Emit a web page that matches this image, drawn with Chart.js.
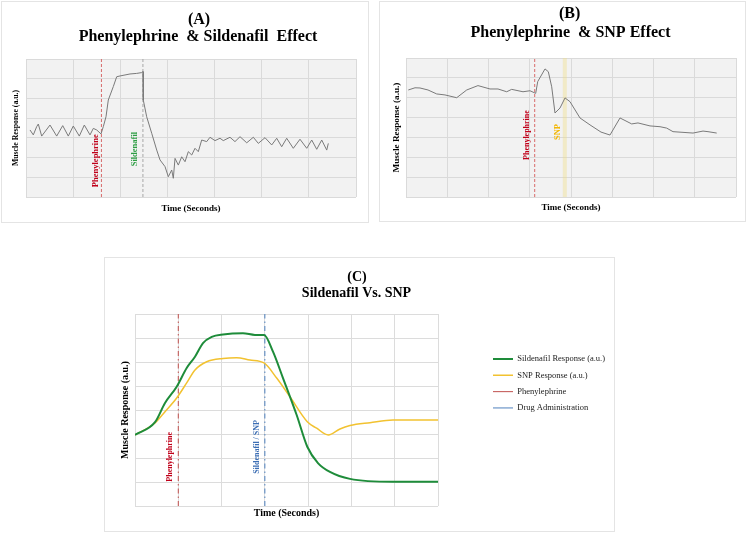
<!DOCTYPE html>
<html><head><meta charset="utf-8">
<script src="https://cdn.jsdelivr.net/npm/chart.js@4/dist/chart.umd.min.js"></script>
<style>
html,body{margin:0;padding:0;background:#fff;width:748px;height:535px;overflow:hidden;}
.panel{position:absolute;border:1px solid #e4e4e4;background:#fff;}
canvas{display:block;}
</style></head><body>
<div class="panel" style="left:1px;top:1px;"><canvas id="cA" width="366" height="220"></canvas></div>
<div class="panel" style="left:379px;top:1px;"><canvas id="cB" width="365" height="219"></canvas></div>
<div class="panel" style="left:104px;top:257px;"><canvas id="cC" width="509" height="273"></canvas></div>
<script>
// ---------- DATA ----------
// Panel A: Phenylephrine & Sildenafil effect (time in s, response in a.u.)
const timeA = [0.85,1.55,2.27,2.61,3.33,5.09,6.51,7.79,8.97,10.03,11.31,12.37,13.58,14.28,15.0,15.91,16.4,16.97,17.46,18.52,19.24,19.94,22.06,23.48,24.54,24.82,24.88,25.6,26.67,27.73,28.43,29.49,30.19,30.91,31.25,31.61,32.31,33.03,33.73,34.43,35.15,35.85,36.55,37.27,38.33,39.03,40.09,41.15,41.85,43.27,44.33,45.4,46.82,48.22,49.28,50.7,52.12,53.18,54.24,55.3,56.7,58.12,59.55,60.61,61.67,62.73,63.79,64.13];
const responseA = [3.40,3.15,3.57,3.70,3.09,3.65,3.09,3.62,3.09,3.60,3.09,3.65,3.15,3.48,3.40,3.20,3.57,4.07,4.92,5.60,6.10,6.14,6.24,6.27,6.31,6.36,4.92,4.07,3.23,2.38,1.88,1.54,1.03,1.37,0.95,1.96,1.62,2.04,1.79,2.30,2.13,2.47,2.30,2.89,2.81,3.03,2.86,2.98,2.86,3.03,2.81,3.06,2.75,3.03,2.72,3.01,2.64,2.98,2.55,2.98,2.47,2.93,2.47,2.89,2.42,2.89,2.38,2.72];
const eventTimesA = [16, 24.8];
const eventNamesA = ['Phenylephrine', 'Sildenafil'];

// Panel B: Phenylephrine & SNP effect
const timeB = [0.56,2.18,3.39,5.33,7.44,9.45,12.29,14.72,17.45,20.36,22.30,24.41,25.62,28.36,30.06,31.44,31.93,33.70,34.50,35.32,36.12,37.33,38.55,39.76,42.18,44.61,47.27,49.45,51.88,54.71,56.24,59.15,61.58,63.20,64.73,69.58,72.0,73.21,75.32];
const responseB = [5.39,5.50,5.49,5.39,5.19,5.14,5.00,5.39,5.61,5.44,5.44,5.30,5.42,5.30,5.35,5.22,5.81,6.45,6.31,5.55,4.23,4.48,4.99,4.80,3.98,3.63,3.27,3.12,3.98,3.68,3.73,3.58,3.54,3.47,3.29,3.22,3.32,3.29,3.22];
const eventTimesB = [31.2, 38.5];
const eventNamesB = ['Phenylephrine', 'SNP'];

// Panel C: Sildenafil vs SNP
const timeSildenafil = [0,4.62,6.93,9.63,11.94,13.86,15.71,17.72,20.33,24.95,27.72,29.80,31.88,34.19,37.35,39.80,42.27,45.04,49.67,59.60,70];
const sildenafilResponse = [2.96,3.49,4.29,4.97,5.75,6.22,6.79,7.05,7.15,7.20,7.13,7.13,6.43,5.33,3.79,2.47,1.79,1.42,1.13,1.01,1.01];
const timeSNP = [0,4.62,6.93,9.63,11.94,13.86,16.56,20.33,23.49,26.56,29.80,32.73,35.80,39.80,41.97,44.65,47.35,49.67,54.29,59.60,70];
const snpResponse = [2.96,3.46,3.93,4.50,5.13,5.67,6.01,6.15,6.18,6.08,5.96,5.33,4.55,3.51,3.24,2.96,3.21,3.35,3.47,3.58,3.58];
const eventTimesC = [10, 30];
const eventLegendC = ['Phenylephrine', 'Drug Administration'];
const eventLabelsC = ['Phenylephrine', 'Sildenafil / SNP'];
const seriesNamesC = ['Sildenafil Response (a.u.)', 'SNP Response (a.u.)'];

// ---------- HELPERS ----------
Chart.defaults.font.family = "'Liberation Serif','Times New Roman',serif";
Chart.defaults.color = '#000';
const SERIF = "'Liberation Serif','Times New Roman',serif";
const pts = (xs, ys) => xs.map((x, i) => ({x, y: ys[i]}));
const vline = (t, ymax) => [{x: t, y: 0}, {x: t, y: ymax}];

function makeDecor(cfg) {
  return {
    id: 'decor',
    beforeDraw(chart) {
      if (!cfg.plotBg) return;
      const {ctx, chartArea: a} = chart;
      ctx.save(); ctx.fillStyle = cfg.plotBg; ctx.fillRect(a.left, a.top, a.width, a.height); ctx.restore();
    },
    afterDraw(chart) {
      const ctx = chart.ctx;
      cfg.titles.forEach(t => {
        ctx.save(); ctx.font = t.font; ctx.fillStyle = '#000';
        ctx.textAlign = 'center'; ctx.textBaseline = 'alphabetic';
        ctx.fillText(t.text, t.x, t.y); ctx.restore();
      });
      cfg.markers.forEach(m => {
        const x = chart.scales.x.getPixelForValue(m.time) + m.dx;
        const y = chart.scales.y.getPixelForValue(m.level);
        ctx.save(); ctx.translate(x, y); ctx.rotate(-Math.PI / 2);
        ctx.font = m.font; ctx.fillStyle = m.color;
        ctx.textAlign = 'center'; ctx.textBaseline = 'middle';
        ctx.fillText(m.text, 0, 0); ctx.restore();
      });
    }
  };
}

function xScale(max, h, size, padB, grid) {
  return {type: 'linear', min: 0, max, position: 'bottom',
    ticks: {display: false, stepSize: 10}, grid: {color: grid, drawTicks: false}, border: {display: false},
    title: {display: true, text: 'Time (Seconds)', font: {size, weight: 'bold'}, padding: {top: 0, bottom: padB}},
    afterFit: s => { s.height = h; }};
}
function yScale(max, w, size, padT, grid) {
  return {type: 'linear', min: 0, max, position: 'left',
    ticks: {display: false, stepSize: 1}, grid: {color: grid, drawTicks: false}, border: {display: false},
    title: {display: true, text: 'Muscle Response (a.u.)', font: {size, weight: 'bold'}, padding: {top: padT, bottom: 0}},
    afterFit: s => { s.width = w; }};
}
const common = {responsive: false, animation: false, devicePixelRatio: 1, events: []};
const labelFont = 'bold 8.5px ' + SERIF;

// ---------- PANEL A ----------
new Chart(document.getElementById('cA'), {
  type: 'line',
  data: {datasets: [
    {label: 'Muscle Response', data: pts(timeA, responseA), borderColor: '#7a7a7a', borderWidth: 1, pointRadius: 0, tension: 0},
    {label: eventNamesA[0], data: vline(eventTimesA[0], 7), borderColor: '#d86a6a', borderWidth: 1, borderDash: [3, 2], pointRadius: 0},
    {label: eventNamesA[1], data: vline(eventTimesA[1], 7), borderColor: '#a8a8a8', borderWidth: 1, borderDash: [3, 2], pointRadius: 0}
  ]},
  options: Object.assign({}, common, {
    layout: {padding: {top: 57, left: 0, right: 12, bottom: 0}},
    plugins: {legend: {display: false}, tooltip: {enabled: false}},
    scales: {x: xScale(70, 25, 9, 7.6, '#dadada'), y: yScale(7, 24, 7.8, 9.3, '#dadada')}
  }),
  plugins: [makeDecor({
    plotBg: '#f2f2f2',
    titles: [
      {text: '(A)', x: 197, y: 21.5, font: 'bold 16px ' + SERIF},
      {text: 'Phenylephrine  & Sildenafil  Effect', x: 196, y: 38.6, font: 'bold 16px ' + SERIF}
    ],
    markers: [
      {text: eventNamesA[0], time: eventTimesA[0], dx: -6, level: 1.84, font: labelFont, color: '#c0001a'},
      {text: eventNamesA[1], time: eventTimesA[1], dx: -7.7, level: 2.43, font: labelFont, color: '#2e9e44'}
    ]
  })]
});

// ---------- PANEL B ----------
new Chart(document.getElementById('cB'), {
  type: 'line',
  data: {datasets: [
    {label: 'Muscle Response', data: pts(timeB, responseB), borderColor: '#7a7a7a', borderWidth: 1, pointRadius: 0, tension: 0},
    {label: eventNamesB[0], data: vline(eventTimesB[0], 7), borderColor: '#d86a6a', borderWidth: 1, borderDash: [3, 2], pointRadius: 0},
    {label: eventNamesB[1], data: vline(eventTimesB[1], 7), borderColor: 'rgba(242,220,120,0.35)', borderWidth: 4, pointRadius: 0}
  ]},
  options: Object.assign({}, common, {
    layout: {padding: {top: 56, left: 0, right: 9, bottom: 0}},
    plugins: {legend: {display: false}, tooltip: {enabled: false}},
    scales: {x: xScale(80, 24, 9, 7.6, '#dadada'), y: yScale(7, 26, 9.2, 10.8, '#dadada')}
  }),
  plugins: [makeDecor({
    plotBg: '#f2f2f2',
    titles: [
      {text: '(B)', x: 189.7, y: 16.3, font: 'bold 16px ' + SERIF},
      {text: 'Phenylephrine  & SNP Effect', x: 190.5, y: 34.7, font: 'bold 16px ' + SERIF}
    ],
    markers: [
      {text: eventNamesB[0], time: eventTimesB[0], dx: -7.7, level: 3.12, font: 'bold 8px ' + SERIF, color: '#c0001a'},
      {text: eventNamesB[1], time: eventTimesB[1], dx: -7.4, level: 3.27, font: labelFont, color: '#f2b705'}
    ]
  })]
});

// ---------- PANEL C ----------
const cfgC = {
  type: 'line',
  data: {datasets: [
    {label: seriesNamesC[0], data: pts(timeSildenafil, sildenafilResponse), borderColor: '#1e8c3a', borderWidth: 2, pointRadius: 0, cubicInterpolationMode: 'monotone'},
    {label: seriesNamesC[1], data: pts(timeSNP, snpResponse), borderColor: '#f2c230', borderWidth: 1.5, pointRadius: 0, cubicInterpolationMode: 'monotone'},
    {label: eventLegendC[0], data: vline(eventTimesC[0], 8), borderColor: '#c0504d', borderWidth: 1, borderDash: [5, 3, 1.5, 3], pointRadius: 0},
    {label: eventLegendC[1], data: vline(eventTimesC[1], 8), borderColor: '#4f81bd', borderWidth: 1, borderDash: [5, 3, 1.5, 3], pointRadius: 0}
  ]},
  options: Object.assign({}, common, {
    layout: {padding: {top: 56, left: 0, right: 4, bottom: 0}},
    plugins: {
      tooltip: {enabled: false},
      legend: {display: true, position: 'right', align: 'start', fullSize: false, maxWidth: 240,
        title: {display: true, text: '', font: {size: 10}, padding: {top: 21, bottom: 0}},
        labels: {usePointStyle: true, pointStyle: 'line', pointStyleWidth: 20, padding: 7.8,
          font: {size: 8.5, family: SERIF}, color: '#222'}}
    },
    scales: {
      x: xScale(70, 25, 10, 12, '#dcdcdc'),
      y: yScale(8, 30, 10, 14, '#dcdcdc'),
      gap: {type: 'linear', position: 'right', display: true, ticks: {display: false},
        grid: {display: false, drawTicks: false}, border: {display: false}, afterFit: s => { s.width = 47.2; }}
    }
  }),
  plugins: [makeDecor({
    plotBg: null,
    titles: [
      {text: '(C)', x: 252, y: 23, font: 'bold 14px ' + SERIF},
      {text: 'Sildenafil Vs. SNP', x: 251.5, y: 38.7, font: 'bold 14px ' + SERIF}
    ],
    markers: [
      {text: eventLabelsC[0], time: eventTimesC[0], dx: -8.4, level: 2.05, font: 'bold 8px ' + SERIF, color: '#c0001a'},
      {text: eventLabelsC[1], time: eventTimesC[1], dx: -8, level: 2.46, font: 'bold 8px ' + SERIF, color: '#3c6eb4'}
    ]
  })]
};
const chartC = new Chart(document.getElementById('cC'), cfgC);
for (let k = 0; k < 3; k++) {
  const dxC = chartC.chartArea.right - 333;
  if (Math.abs(dxC) < 0.05) break;
  cfgC.options.layout.padding.right += dxC;
  chartC.update();
}
</script>
</body></html>
